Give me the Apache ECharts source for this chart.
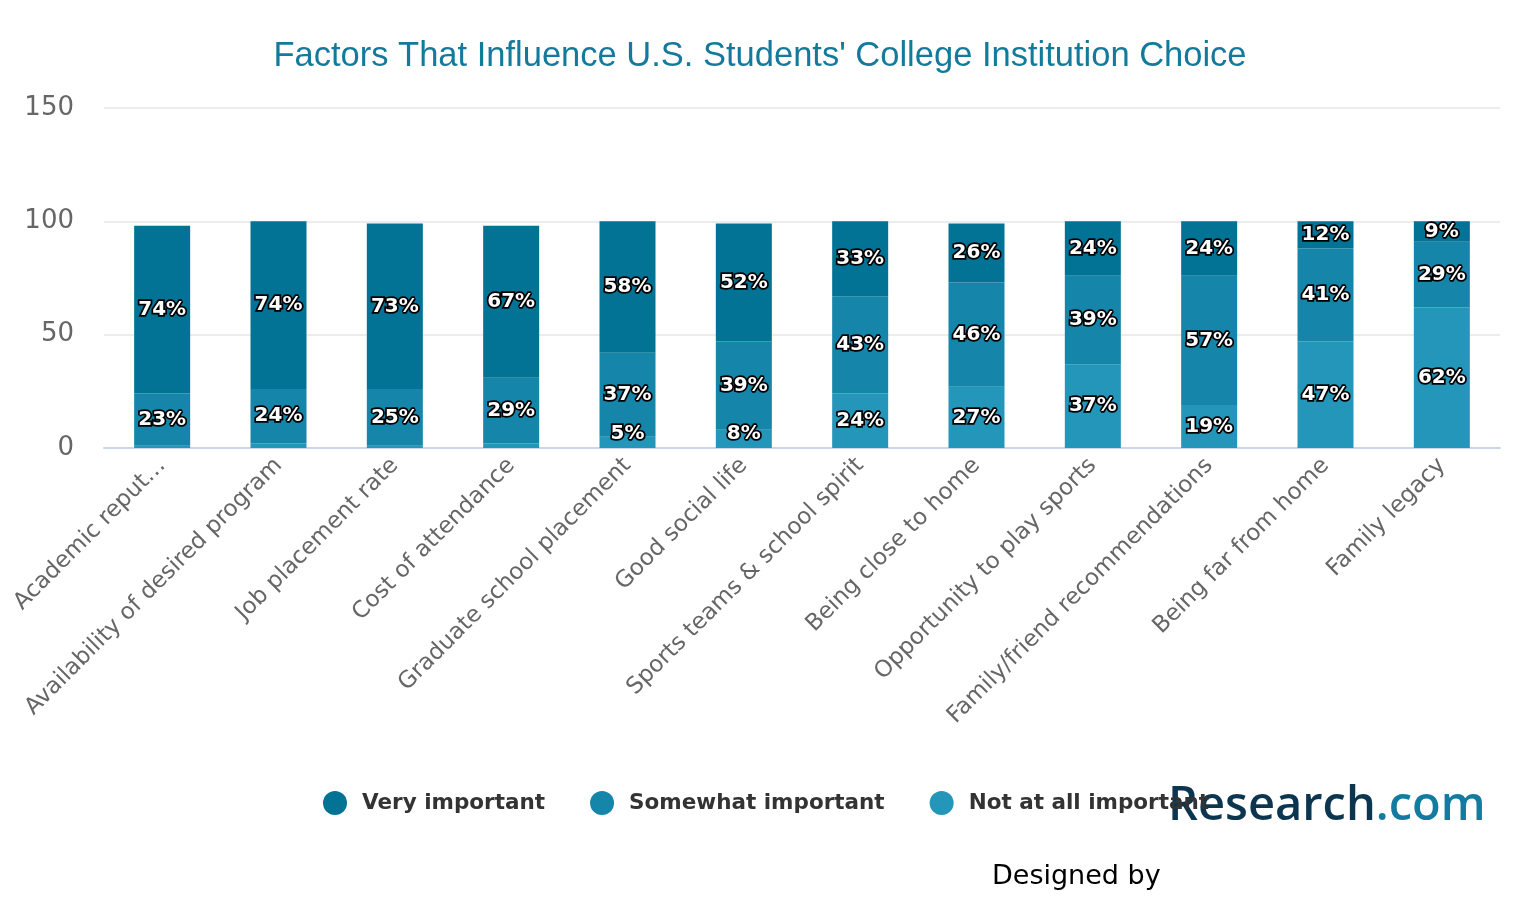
<!DOCTYPE html>
<html>
<head>
<meta charset="utf-8">
<script src="https://cdn.jsdelivr.net/npm/echarts@6/dist/echarts.min.js"></script>
<style>html,body{margin:0;padding:0;background:#fff;}#c{width:1520px;height:920px;}</style>
</head>
<body>
<div id="c"></div>
<script>
var categories = ["Academic reput…", "Availability of desired program", "Job placement rate", "Cost of attendance", "Graduate school placement", "Good social life", "Sports teams & school spirit", "Being close to home", "Opportunity to play sports", "Family/friend recommendations", "Being far from home", "Family legacy"];
var notAtAll = [1, 2, 1, 2, 5, 8, 24, 27, 37, 19, 47, 62];
var somewhat = [23, 24, 25, 29, 37, 39, 43, 46, 39, 57, 41, 29];
var very = [74, 74, 73, 67, 58, 52, 33, 26, 24, 24, 12, 9];
var seriesNames = ["Very important", "Somewhat important", "Not at all important"];
var yTicks = [0, 50, 100, 150];

var chart = echarts.init(document.getElementById('c'));
var dv = 'DejaVu Sans, sans-serif';
function labelCfg() {
  return {
    show: true, position: 'inside', color: '#fff', fontFamily: dv, fontWeight: 'bold', fontSize: 20,
    textBorderColor: '#000', textBorderWidth: 3.5,
    formatter: function (p) { return p.value >= 3 ? p.value + '%' : ''; }
  };
}
function mk(name, arr, color, isBottom) {
  return {
    name: name, type: 'bar', stack: 'total', barWidth: 56, data: arr.map(function (v) {
      var d = { value: v };
      if (isBottom && v < 10) d.label = { position: 'insideBottom', distance: 4 };
      return d;
    }),
    itemStyle: { color: color }, label: labelCfg(), emphasis: { disabled: true }
  };
}
chart.setOption({
  animation: false,
  title: {
    text: "Factors That Influence U.S. Students' College Institution Choice",
    left: 'center', top: 34,
    textStyle: { color: '#137a9c', fontFamily: 'Liberation Sans, Arial, sans-serif', fontWeight: 'normal', fontSize: 34.5 }
  },
  legend: {
    data: seriesNames, left: 318, top: 786, icon: 'circle', itemWidth: 24, itemHeight: 24, itemGap: 45,
    textStyle: { color: '#333', fontFamily: dv, fontWeight: 'bold', fontSize: 21.5, padding: [0, 0, 0, 10] }
  },
  grid: { left: 104, right: 20, top: 108, bottom: 472, containLabel: false },
  xAxis: {
    type: 'category', data: categories,
    axisLine: { lineStyle: { color: '#ccd6eb', width: 2 } }, axisTick: { show: false },
    axisLabel: { rotate: 45, interval: 0, color: '#666', fontFamily: dv, fontSize: 23, margin: 14 }
  },
  yAxis: {
    type: 'value', min: yTicks[0], max: yTicks[yTicks.length - 1], interval: 50,
    axisLine: { show: false }, axisTick: { show: false },
    splitLine: { lineStyle: { color: '#e6e6e6', width: 1.5 } },
    axisLabel: { color: '#666', fontFamily: dv, fontSize: 26, margin: 30 }
  },
  series: [
    mk(seriesNames[2], notAtAll, '#2396ba', true),
    mk(seriesNames[1], somewhat, '#1585a9', false),
    mk(seriesNames[0], very, '#027394', false)
  ],
  graphic: [
    { type: 'text', left: 1168, top: 783, style: {
      text: '{a|Research}{b|.com}',
      rich: {
        a: { fill: '#0c3650', fontFamily: '"Open Sans", Lato, sans-serif', fontWeight: 600, fontSize: 47 },
        b: { fill: '#137ba0', fontFamily: '"Open Sans", Lato, sans-serif', fontWeight: 600, fontSize: 47 }
      } } },
    { type: 'text', left: 992, top: 863, style: { text: 'Designed by', fill: '#000', font: '27px "DejaVu Sans", sans-serif' } }
  ]
});
</script>
</body>
</html>
